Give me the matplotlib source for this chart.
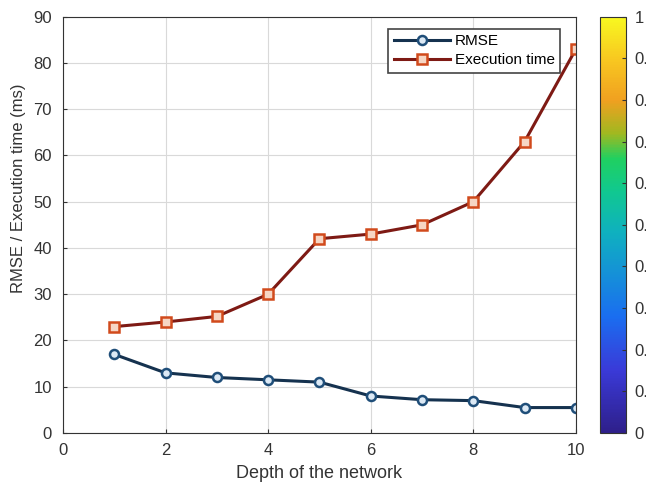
import matplotlib
matplotlib.use("Agg")
import matplotlib.pyplot as plt
import numpy as np

plt.rcParams['font.family'] = ['Liberation Sans', 'DejaVu Sans']

depth = [1, 2, 3, 4, 5, 6, 7, 8, 9, 10]
rmse = [17, 13, 12, 11.5, 11, 8, 7.2, 7, 5.5, 5.5]
exec_time = [23, 24, 25.2, 30, 42, 43, 45, 50, 63, 83]
xticks = [0, 2, 4, 6, 8, 10]
yticks = [0, 10, 20, 30, 40, 50, 60, 70, 80, 90]
cbar_ticks = [0, 0.1, 0.2, 0.3, 0.4, 0.5, 0.6, 0.7, 0.8, 0.9, 1]

fig = plt.figure(figsize=(6.46, 4.83), dpi=100)
ax = fig.add_axes([0.0975, 0.1035, 0.794, 0.862])
cax = fig.add_axes([0.929, 0.1035, 0.040, 0.862])

ax.plot(depth, rmse, color='#15324f', lw=2.2, marker='o', ms=6.5,
        mfc='#dce9f5', mec='#1f4e79', mew=1.8, label='RMSE')
ax.plot(depth, exec_time, color='#7e1a14', lw=2.2, marker='s', ms=6.5,
        mfc='#f6d6c4', mec='#d14a1c', mew=1.8, label='Execution time')

ax.set_xlim(0, 10)
ax.set_ylim(0, 90)
ax.set_xticks(xticks)
ax.set_yticks(yticks)
ax.grid(True, color='#d9d9d9', lw=0.8)
ax.set_axisbelow(True)
ax.tick_params(axis='y', labelsize=12, colors='#333333', direction='in', length=3, pad=8)
ax.tick_params(axis='x', labelsize=12, colors='#333333', direction='in', length=3, pad=7)
for s in ax.spines.values():
    s.set_color('#333333')
ax.set_xlabel('Depth of the network', fontsize=13, color='#333333', labelpad=5)
ax.set_ylabel('RMSE / Execution time (ms)', fontsize=12, color='#333333')
ax.yaxis.set_label_coords(-0.073, 0.587)
leg = ax.legend(loc='upper right', bbox_to_anchor=(0.969, 0.971), fontsize=11,
                fancybox=False, framealpha=1, edgecolor='#444444', borderpad=0.35,
                handlelength=3.7, borderaxespad=0, labelspacing=0.35,
                handletextpad=0.3)
leg.get_frame().set_linewidth(1.2)

parula = matplotlib.colors.LinearSegmentedColormap.from_list('parula_like', [
    (0.0, '#2e1f8a'), (0.15, '#3a3ad8'), (0.28, '#1a6ef0'), (0.38, '#1590d8'),
    (0.48, '#0fb0c0'), (0.58, '#10c890'), (0.66, '#20d060'), (0.72, '#a0b820'),
    (0.80, '#f0a020'), (0.90, '#f8c820'), (1.0, '#f8f820')])
cb = matplotlib.colorbar.ColorbarBase(cax, cmap=parula,
                                      norm=matplotlib.colors.Normalize(0, 1))
cb.set_ticks(cbar_ticks)
cb.set_ticklabels(['0'] + [f'{t:.1f}' for t in cbar_ticks[1:-1]] + ['1'])
cb.ax.tick_params(labelsize=12, colors='#333333', direction='in', length=3, pad=6)
cb.outline.set_edgecolor('#333333')

fig.savefig('out.png', dpi=100)
